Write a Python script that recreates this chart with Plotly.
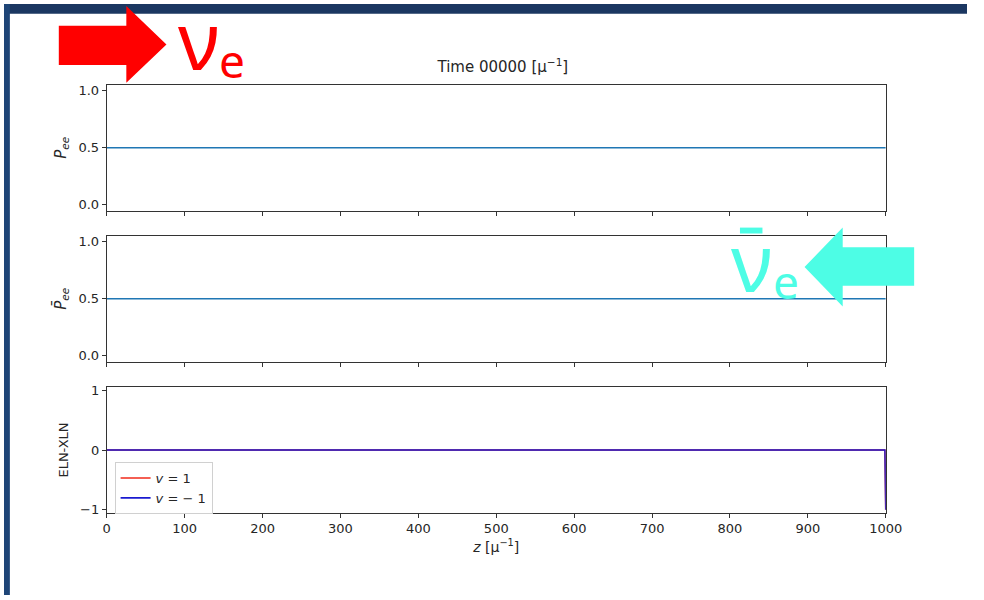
import plotly.graph_objects as go

# ---------------- data ----------------
z_grid = [0, 1000]
p_ee = [0.5, 0.5]
p_ee_bar = [0.5, 0.5]
z_eln = [0, 999, 1000]
eln_v_plus = [0, 0, -1]
eln_v_minus = [0, 0, -1]
x_ticks = [0, 100, 200, 300, 400, 500, 600, 700, 800, 900, 1000]
p_ticks = [0.0, 0.5, 1.0]
p_ticktext = ["0.0", "0.5", "1.0"]
eln_ticks = [-1, 0, 1]
eln_ticktext = ["−1", "0", "1"]

W, H = 984, 600
def px(x):
    return x / W
def py(y):
    return 1 - y / H

TXT = "#262626"
AX = "#333333"
FONT = "DejaVu Sans"

fig = go.Figure()
fig.add_trace(go.Scatter(x=z_grid, y=p_ee, mode="lines", line=dict(color="#1f77b4", width=1.6),
                         xaxis="x", yaxis="y", showlegend=False))
fig.add_trace(go.Scatter(x=z_grid, y=p_ee_bar, mode="lines", line=dict(color="#1f77b4", width=1.6),
                         xaxis="x2", yaxis="y2", showlegend=False))
fig.add_trace(go.Scatter(x=z_eln, y=eln_v_plus, mode="lines", line=dict(color="#f02a1a", width=1.6),
                         xaxis="x3", yaxis="y3", name="<i>v</i> = 1"))
fig.add_trace(go.Scatter(x=z_eln, y=eln_v_minus, mode="lines", line=dict(color="#1a1ad0", width=1.6),
                         xaxis="x3", yaxis="y3", name="<i>v</i> = − 1"))

xdom = [px(105), px(901)]
common_x = dict(domain=xdom, range=[0, 1000], tickvals=x_ticks, ticks="outside", ticklen=4,
                tickwidth=1, tickcolor=AX, showline=True, mirror=True, linecolor=AX, linewidth=1,
                showgrid=False, zeroline=False, tickfont=dict(family=FONT, size=13, color=TXT))
common_y = dict(ticks="outside", ticklen=4, tickwidth=1, tickcolor=AX, showline=True, mirror=True,
                linecolor=AX, linewidth=1, showgrid=False, zeroline=False,
                tickfont=dict(family=FONT, size=13, color=TXT))

fig.update_layout(
    width=W, height=H, margin=dict(l=0, r=0, t=0, b=0),
    paper_bgcolor="white", plot_bgcolor="white",
    xaxis=dict(**common_x, anchor="y", showticklabels=False),
    xaxis2=dict(**common_x, anchor="y2", showticklabels=False, matches="x"),
    xaxis3=dict(**common_x, anchor="y3", matches="x",
                title=dict(text="<i>z</i> [μ<sup>−1</sup>]", standoff=6,
                           font=dict(family=FONT, size=14, color=TXT))),
    yaxis=dict(**common_y, domain=[py(209.8), py(82.2)], anchor="x", range=[-0.05, 1.05],
               tickvals=p_ticks, ticktext=p_ticktext,
               title=dict(text="<i>P</i><sub><i>ee</i></sub>", standoff=8,
                          font=dict(family=FONT, size=15, color=TXT))),
    yaxis2=dict(**common_y, domain=[py(363), py(235.4)], anchor="x2", range=[-0.05, 1.05],
                tickvals=p_ticks, ticktext=p_ticktext,
                title=dict(text="<i>P̄</i><sub><i>ee</i></sub>", standoff=8,
                           font=dict(family=FONT, size=15, color=TXT))),
    yaxis3=dict(**common_y, domain=[py(516.6), py(389)], anchor="x3", range=[-1.05, 1.05],
                tickvals=eln_ticks, ticktext=eln_ticktext,
                title=dict(text="ELN-XLN", standoff=8,
                           font=dict(family=FONT, size=13, color=TXT))),
    title=dict(text="Time 00000 [μ<sup>−1</sup>]", x=0.511, xanchor="center",
               y=py(67), yanchor="middle", font=dict(family=FONT, size=15, color=TXT)),
    legend=dict(x=px(113), y=py(465), xanchor="left", yanchor="top",
                bgcolor="rgba(255,255,255,0.85)", bordercolor="#d0d0d0", borderwidth=1,
                font=dict(family=FONT, size=13, color=TXT), tracegroupgap=0),
)

shapes = []
# navy frame bands
shapes.append(dict(type="rect", xref="paper", yref="paper", x0=0, x1=1, y0=py(10), y1=1,
                   fillcolor="#1b3761", line=dict(width=0), layer="below"))
shapes.append(dict(type="rect", xref="paper", yref="paper", x0=0, x1=px(6), y0=0, y1=1,
                   fillcolor="#1e4577", line=dict(width=0), layer="below"))
# red arrow (pointing right)
red_pts = [(56, 22), (125, 22), (125, 2), (166, 41), (125, 80), (125, 62), (56, 62)]
path = "M " + " L ".join(f"{px(x):.5f},{py(y):.5f}" for x, y in red_pts) + " Z"
shapes.append(dict(type="path", xref="paper", yref="paper", path=path,
                   fillcolor="#ff0000", line=dict(width=0), layer="above"))
# cyan arrow (pointing left)
cy_pts = [(930, 247), (857, 247), (857, 227), (818, 267), (857, 307), (857, 286), (930, 286)]
path = "M " + " L ".join(f"{px(x):.5f},{py(y):.5f}" for x, y in cy_pts) + " Z"
shapes.append(dict(type="path", xref="paper", yref="paper", path=path,
                   fillcolor="#4dfde5", line=dict(width=0), layer="above"))
# bar over the anti-neutrino symbol
shapes.append(dict(type="rect", xref="paper", yref="paper", x0=px(752), x1=px(775),
                   y0=py(233), y1=py(227), fillcolor="#4dfde5", line=dict(width=0), layer="above"))
fig.update_layout(shapes=shapes)

def label(txt, x, y, size, color, height=None):
    fig.add_annotation(text=txt, xref="paper", yref="paper", x=px(x), y=py(y),
                       xanchor="left", yanchor="middle", showarrow=False, height=height,
                       valign="middle",
                       font=dict(family="Noto Sans", size=size, color=color))

label("ν", 176, 35, 80, "#ff0000", height=68)
label("e", 218, 57, 46, "#ff0000")
label("ν", 741, 260, 80, "#4dfde5")
label("e", 784, 281, 46, "#4dfde5")

fig.write_html("out.html",
               post_script="document.body.style.margin='0';document.body.style.overflow='hidden';")
